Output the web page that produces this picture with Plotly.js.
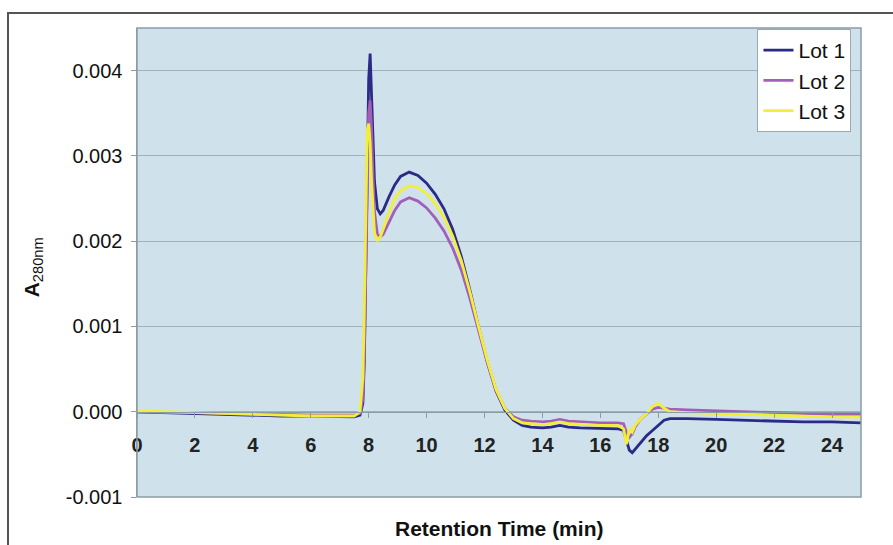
<!DOCTYPE html>
<html>
<head>
<meta charset="utf-8">
<script src="https://cdn.plot.ly/plotly-3.0.1.min.js"></script>
<style>
  html, body { margin: 0; padding: 0; background: #ffffff; }
  #frame { position: absolute; left: 7px; top: 12px; width: 886px; height: 533px;
           border-top: 2px solid #555; border-left: 2px solid #555; box-sizing: border-box; }
  #chart { position: absolute; left: 0; top: 0; width: 893px; height: 545px; }
</style>
</head>
<body>
<div id="frame"></div>
<div id="chart"></div>
<script>
// Retention time (min)
const time = [0, 1, 2, 3, 4, 5, 6, 7, 7.5, 7.7, 7.8, 7.85, 7.9, 7.95, 8.0, 8.05, 8.1, 8.15, 8.2, 8.3, 8.4, 8.5, 8.7, 8.9, 9.1, 9.4, 9.7, 10.0, 10.3, 10.6, 10.9, 11.2, 11.5, 11.8, 12.1, 12.4, 12.7, 13.0, 13.3, 13.6, 14.0, 14.3, 14.6, 14.9, 15.3, 16.0, 16.6, 16.8, 16.9, 17.0, 17.1, 17.2, 17.4, 17.6, 17.8, 18.0, 18.2, 18.4, 19, 20, 21, 22, 23, 24, 25];

const lot1 = [0.00000, -0.00001, -0.00002, -0.00003, -0.00004, -0.00005, -0.00005, -0.00006, -0.00006, -0.00004,
  0.00010, 0.00060, 0.00170, 0.00300, 0.00390, 0.00420, 0.00380, 0.00320, 0.00270, 0.00238,
  0.00232, 0.00236, 0.00252, 0.00266, 0.00276, 0.00281, 0.00277, 0.00268, 0.00255, 0.00238,
  0.00214, 0.00182, 0.00142, 0.00098, 0.00058, 0.00024, 0.00002, -0.00010, -0.00016, -0.00018,
  -0.00019, -0.00018, -0.00016, -0.00018, -0.00019, -0.00020, -0.00020, -0.00022, -0.00035, -0.00045,
  -0.00048, -0.00044, -0.00036, -0.00028, -0.00022, -0.00016, -0.00010, -0.00008, -0.00008, -0.00009,
  -0.00010, -0.00011, -0.00012, -0.00012, -0.00013];

const lot2 = [0.00000, -0.00001, -0.00001, -0.00002, -0.00003, -0.00003, -0.00004, -0.00004, -0.00004, -0.00002,
  0.00015, 0.00070, 0.00180, 0.00290, 0.00350, 0.00365, 0.00330, 0.00275, 0.00235, 0.00208,
  0.00205, 0.00208, 0.00222, 0.00236, 0.00246, 0.00251, 0.00247, 0.00239, 0.00227, 0.00212,
  0.00192, 0.00166, 0.00132, 0.00094, 0.00057, 0.00025, 0.00004, -0.00006, -0.00010, -0.00011,
  -0.00012, -0.00011, -0.00009, -0.00011, -0.00012, -0.00013, -0.00013, -0.00014, -0.00024, -0.00030,
  -0.00026, -0.00018, -0.00008, -0.00002, 0.00003, 0.00005, 0.00004, 0.00003, 0.00002, 0.00001,
  0.00000, -0.00001, -0.00002, -0.00003, -0.00003];

const lot3 = [0.00001, 0.00000, -0.00001, -0.00002, -0.00003, -0.00004, -0.00005, -0.00005, -0.00005, 0.00000,
  0.00040, 0.00120, 0.00250, 0.00330, 0.00338, 0.00315, 0.00270, 0.00230, 0.00210, 0.00201,
  0.00205, 0.00214, 0.00234, 0.00250, 0.00259, 0.00265, 0.00263, 0.00256, 0.00244, 0.00228,
  0.00206, 0.00177, 0.00140, 0.00099, 0.00060, 0.00026, 0.00004, -0.00008, -0.00013, -0.00014,
  -0.00015, -0.00014, -0.00012, -0.00014, -0.00015, -0.00016, -0.00016, -0.00020, -0.00038, -0.00020,
  -0.00024, -0.00016, -0.00008, -0.00002, 0.00006, 0.00010, 0.00004, 0.00000, -0.00001, -0.00002,
  -0.00003, -0.00004, -0.00005, -0.00006, -0.00006];

const seriesNames = ["Lot 1", "Lot 2", "Lot 3"];
const seriesColors = ["#2b2a86", "#a35fb8", "#f2ee3a"];
const seriesValues = [lot1, lot2, lot3];

const xTickVals = [0, 2, 4, 6, 8, 10, 12, 14, 16, 18, 20, 22, 24];
const xTickText = ["0", "2", "4", "6", "8", "10", "12", "14", "16", "18", "20", "22", "24"];
const yTickVals = [-0.001, 0.000, 0.001, 0.002, 0.003, 0.004];
const yTickText = ["-0.001", "0.000", "0.001", "0.002", "0.003", "0.004"];

const traces = seriesValues.map((vals, i) => ({
  type: "scatter",
  mode: "lines",
  x: time,
  y: vals,
  name: seriesNames[i],
  line: { color: seriesColors[i], width: 2.8 }
}));

const axisGray = "#8c9ca5";

const layout = {
  width: 893,
  height: 545,
  margin: { l: 137, r: 32, t: 28, b: 48 },
  paper_bgcolor: "rgba(0,0,0,0)",
  plot_bgcolor: "#cfe2ec",
  font: { family: "Liberation Sans, Arial, sans-serif", color: "#111" },
  showlegend: true,
  legend: {
    x: 0.857, xanchor: "left",
    y: 0.998, yanchor: "top",
    bgcolor: "#ffffff",
    bordercolor: "#9aa8b0",
    borderwidth: 1,
    font: { size: 21, color: "#111" },
    tracegroupgap: 0
  },
  xaxis: {
    range: [0, 25],
    anchor: "free",
    position: 1 / 5.5,
    tickvals: xTickVals,
    ticktext: xTickText,
    ticks: "outside",
    ticklen: 5,
    tickcolor: axisGray,
    ticklabelstandoff: 10,
    tickfont: { size: 20, weight: "bold", color: "#222" },
    showline: true,
    linecolor: axisGray,
    linewidth: 1.2,
    showgrid: false,
    zeroline: false
  },
  yaxis: {
    range: [-0.001, 0.0045],
    tickvals: yTickVals,
    ticktext: yTickText,
    ticks: "outside",
    ticklen: 5,
    tickcolor: axisGray,
    ticklabelstandoff: 4,
    tickfont: { size: 20, color: "#111" },
    showline: true,
    linecolor: axisGray,
    linewidth: 1.5,
    showgrid: true,
    gridcolor: "#9fb1ba",
    gridwidth: 1,
    zeroline: false
  },
  shapes: [
    { type: "rect", xref: "paper", yref: "paper", x0: 0, x1: 1, y0: 0, y1: 1,
      line: { color: axisGray, width: 1.5 }, fillcolor: "rgba(0,0,0,0)", layer: "above" }
  ],
  annotations: [
    { text: "<b>Retention Time (min)</b>", xref: "paper", yref: "paper",
      x: 0.5, y: -0.068, xanchor: "center", yanchor: "middle", showarrow: false,
      font: { size: 21, color: "#111" } },
    { text: "<b>A</b><sub>280nm</sub>", xref: "paper", yref: "paper",
      x: -0.1434, y: 0.49, xanchor: "center", yanchor: "middle", showarrow: false,
      textangle: -90, font: { size: 21, color: "#111" } }
  ]
};

Plotly.newPlot("chart", traces, layout, { displayModeBar: false, staticPlot: true });
</script>
</body>
</html>
